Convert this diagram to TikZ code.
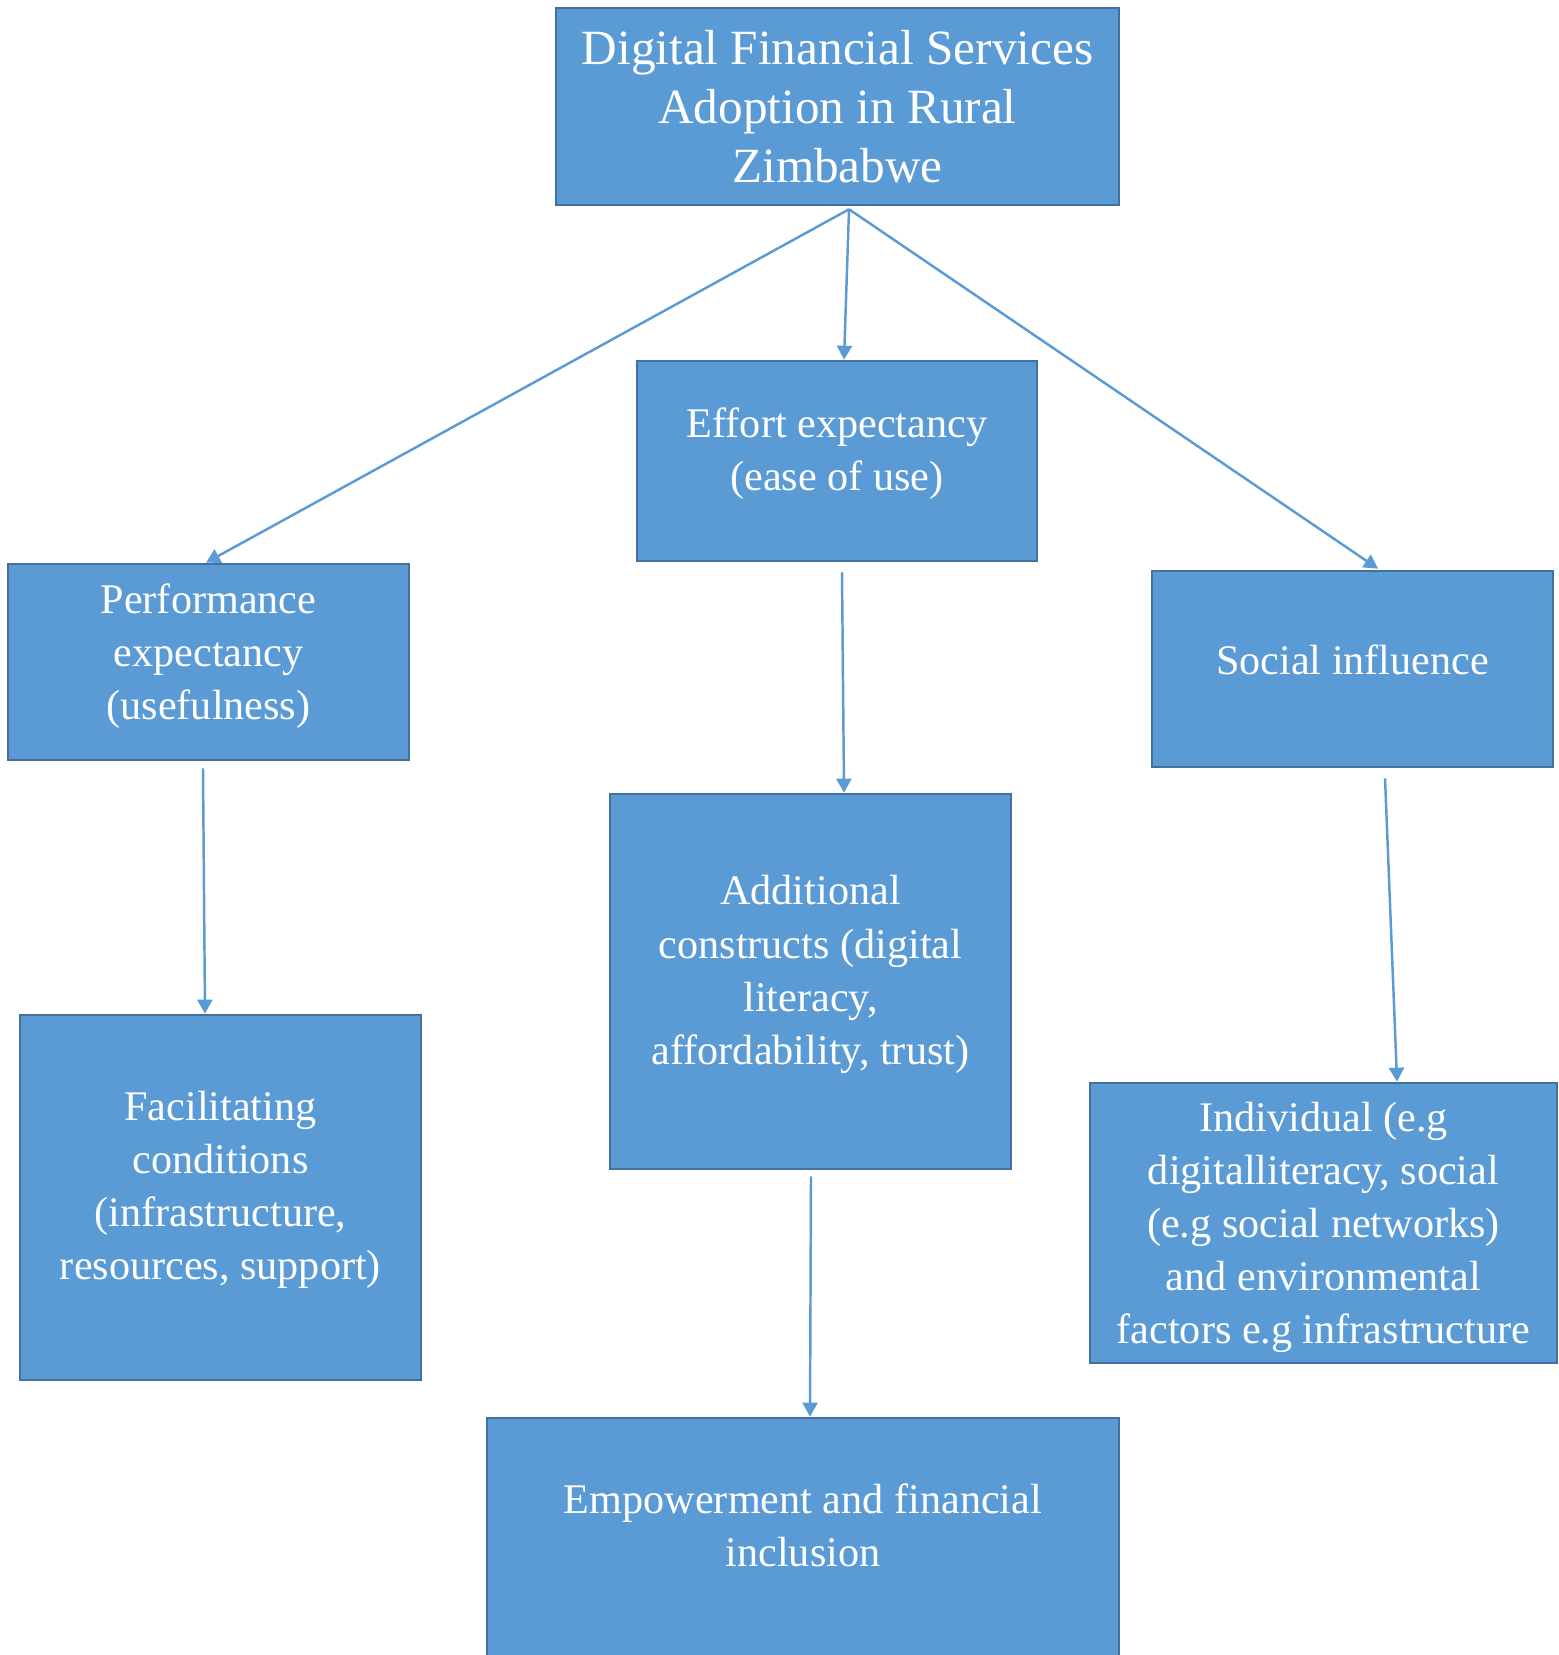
\documentclass[tikz,border=0pt]{standalone}
\usepackage{fontspec}
\setmainfont{Liberation Serif}
\usepackage{tikz}
\usetikzlibrary{arrows.meta}

\definecolor{boxblue}{HTML}{5B9BD5}
\definecolor{boxedge}{HTML}{41719C}

\begin{document}
\begin{tikzpicture}[x=0.01cm, y=-0.01cm,
  box/.style={draw=boxedge, fill=boxblue, line width=0.7pt, text=white,
    align=center, inner sep=0pt, font=\fontsize{12}{15.1}\selectfont},
  link/.style={draw=boxblue, line width=0.7pt,
    -{Triangle[length=0.14cm, width=0.15cm]}}]
  \useasboundingbox (0,0) rectangle (1558,1655);

  % boxes
  \node[box, minimum width=5.63cm, minimum height=1.97cm,
    font=\fontsize{14}{16.8}\selectfont] (dfs) at (837.5,106.5)
    {Digital Financial Services\\Adoption in Rural\\Zimbabwe};
  \node[box, minimum width=4.00cm, minimum height=2.00cm, text depth=0.23cm] (effort) at (837,461)
    {Effort expectancy\\(ease of use)};
  \node[box, minimum width=4.01cm, minimum height=1.96cm, text depth=0.20cm] (perf) at (208.5,662)
    {Performance\\expectancy\\(usefulness)};
  \node[box, minimum width=4.01cm, minimum height=1.96cm, text depth=0.19cm] (social) at (1352.5,669)
    {Social influence};
  \node[box, minimum width=4.01cm, minimum height=3.75cm, text depth=0.23cm] (addc) at (810.5,981.5)
    {Additional\\constructs (digital\\literacy,\\affordability, trust)};
  \node[box, minimum width=4.01cm, minimum height=3.65cm, text depth=0.24cm] (facil) at (220.5,1197.5)
    {Facilitating\\conditions\\(infrastructure,\\resources, support)};
  \node[box, minimum width=4.67cm, minimum height=2.80cm, text depth=0pt] (indiv) at (1323.5,1223)
    {Individual (e.g\\digitalliteracy, social\\(e.g social networks)\\and environmental\\factors e.g infrastructure};
  \node[box, minimum width=6.32cm, minimum height=2.90cm, text depth=0.75cm] (empower) at (803,1563)
    {Empowerment and financial\\inclusion};

  % arrows
  \draw[link] ([xshift=0.115cm, yshift=-0.03cm]dfs.south) -- ([xshift=-0.025cm]perf.north);
  \draw[link] ([xshift=0.115cm, yshift=-0.03cm]dfs.south) -- ([xshift=0.07cm]effort.north);
  \draw[link] ([xshift=0.115cm, yshift=-0.03cm]dfs.south) -- ([xshift=0.255cm, yshift=0.01cm]social.north);
  \draw[link] ([xshift=-0.055cm, yshift=-0.07cm]perf.south) -- ([xshift=-0.155cm]facil.north);
  \draw[link] ([xshift=0.05cm, yshift=-0.10cm]effort.south) -- ([xshift=0.335cm]addc.north);
  \draw[link] ([xshift=0.325cm, yshift=-0.10cm]social.south) -- ([xshift=0.735cm]indiv.north);
  \draw[link] ([xshift=0.005cm, yshift=-0.06cm]addc.south) -- ([xshift=0.07cm]empower.north);
\end{tikzpicture}
\end{document}
